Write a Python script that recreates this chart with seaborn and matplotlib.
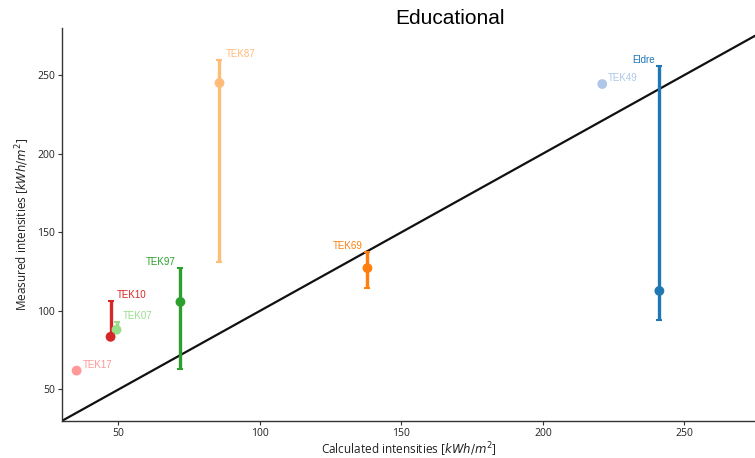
import matplotlib
matplotlib.use("Agg")
import matplotlib.pyplot as plt
import seaborn as sns
import pandas as pd
import numpy as np

# ---- data ----
labels = ["Eldre", "TEK49", "TEK69", "TEK87", "TEK97", "TEK07", "TEK10", "TEK17"]
calculated = [241.2, 221.0, 138.0, 85.7, 71.9, 49.3, 47.2, 35.2]
measured = [112.7, 244.3, 127.2, 245.0, 105.7, 88.0, 83.5, 62.0]
err_low = [94.3, np.nan, 114.6, 131.0, 63.0, 88.0, 81.8, np.nan]
err_high = [255.5, np.nan, 137.5, 259.8, 127.2, 92.8, 106.0, np.nan]
label_side = ["left", "right", "left", "right", "left", "right", "right", "right"]
line_ref = [30, 275]

colors = sns.color_palette("tab20", 8)

df = pd.DataFrame({"label": labels, "calc": calculated, "meas": measured,
                   "lo": err_low, "hi": err_high, "side": label_side})

sns.set_style("white")
plt.rcParams["font.family"] = ["Open Sans", "DejaVu Sans"]

fig = plt.figure(figsize=(7.55, 4.58), dpi=100)
ax = fig.add_axes([0.082, 0.081, 0.918, 0.858])

# reference line y = x
sns.lineplot(x=line_ref, y=line_ref, ax=ax, color="#111111", lw=1.6)

# error bars
for i, r in df.iterrows():
    if not np.isnan(r["lo"]):
        ax.errorbar(r["calc"], r["meas"],
                    yerr=[[r["meas"] - r["lo"]], [r["hi"] - r["meas"]]],
                    fmt="none", ecolor=colors[i], elinewidth=2.4, capsize=2.5,
                    capthick=1.5, zorder=3)

sns.scatterplot(data=df, x="calc", y="meas", hue="label", palette=colors,
                s=50, edgecolor="none", legend=False, ax=ax, zorder=4)

# labels
for i, r in df.iterrows():
    top = r["hi"] if not np.isnan(r["hi"]) else r["meas"]
    if r["side"] == "left":
        ax.annotate(r["label"], (r["calc"], top), xytext=(-5, 1),
                    textcoords="offset pixels", ha="right", va="bottom",
                    color=colors[i], fontsize=7, family="Liberation Sans")
    else:
        ax.annotate(r["label"], (r["calc"], top), xytext=(6, 1),
                    textcoords="offset pixels", ha="left", va="bottom",
                    color=colors[i], fontsize=7, family="Liberation Sans")

ax.set_xlim(30, 275)
ax.set_ylim(30, 280)
ax.set_xticks([50, 100, 150, 200, 250])
ax.set_yticks([50, 100, 150, 200, 250])
ax.tick_params(axis="both", labelsize=7.5, length=3, colors="#333333",
               direction="out", bottom=True, left=True, pad=2)
ax.tick_params(axis="both", labelcolor="#222222")
ax.spines["top"].set_visible(False)
ax.spines["right"].set_visible(False)
for s in ["left", "bottom"]:
    ax.spines[s].set_color("#333333")
    ax.spines[s].set_linewidth(1.0)

ax.set_xlabel(r"Calculated intensities [$kWh/m^2$]", fontsize=8.5,
              color="#222222", labelpad=1)
ax.set_ylabel(r"Measured intensities [$kWh/m^2$]", fontsize=8.5,
              color="#222222", labelpad=4)
ax.set_title("Educational", fontsize=15, x=0.56, y=1.0, pad=3,
             family="Liberation Sans", color="black")

fig.savefig("out.png", dpi=100)
